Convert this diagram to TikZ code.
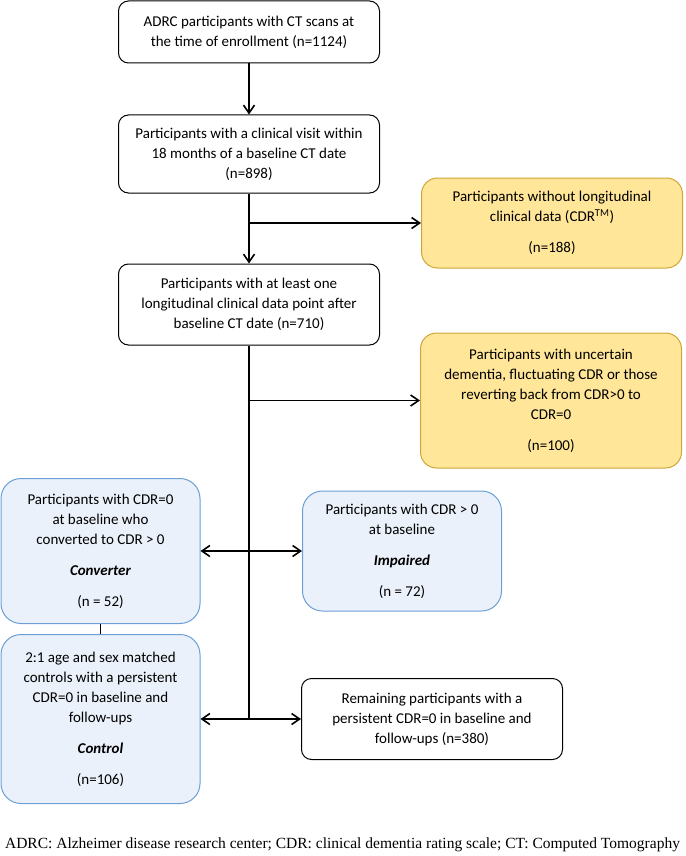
\documentclass[tikz,border=0pt]{standalone}
\usepackage{fontspec}
\setmainfont{Carlito}
\newfontfamily\notefont{Liberation Serif}
\usepackage{tikz}
\usetikzlibrary{arrows.meta}
\definecolor{goldfill}{HTML}{FFE699}
\definecolor{goldline}{HTML}{CFA536}
\definecolor{bluefill}{HTML}{EBF1FA}
\definecolor{blueline}{HTML}{6B9FD6}
\tikzset{
    every node/.style={align=center, inner sep=0pt, font=\fontsize{15}{20}\selectfont,},
    stage/.style={draw,rectangle,rounded corners=10pt, line width=1pt, fill=white, minimum width=261pt,},
    excluded/.style={stage, draw=goldline, fill=goldfill, rounded corners=16pt,},
    cohort/.style={stage, draw=blueline, fill=bluefill, rounded corners=20pt, minimum width=199pt,},
    flow/.style={line width=1.6pt, -{Straight Barb[length=8pt,width=11pt]},},
    both/.style={line width=1.6pt, {Straight Barb[length=8pt,width=11pt]}-{Straight Barb[length=8pt,width=11pt]},},
}

\begin{document}
\begin{tikzpicture}[x=1pt,y=-1pt]
                \useasboundingbox (0,0) rectangle (685,856);

                \node[stage, minimum height=62pt] (enrolled) at (249, 32) {ADRC participants with CT scans at\\the time of enrollment (n=1124)};
                \node[stage, minimum height=78pt] (visit) at (249, 154) {Participants with a clinical visit within\\18 months of a baseline CT date\\(n=898)};
                \node[excluded, minimum height=90pt] (nolong) at (552, 223) {Participants without longitudinal\\clinical data (CDR\textsuperscript{TM})\\[11pt](n=188)};
                \node[stage, minimum height=81pt] (longit) at (249, 304.5) {Participants with at least one\\longitudinal clinical data point after\\baseline CT date (n=710)};
                \node[excluded, minimum height=135pt] (uncertain) at (551, 400.5) {Participants with uncertain\\dementia, fluctuating CDR or those\\reverting back from CDR>0 to\\CDR=0\\[11pt](n=100)};

                \node[cohort, minimum height=145pt] (converter) at (100.5, 551) {Participants with CDR=0\\at baseline who\\converted to CDR > 0\\[11pt]\textbf{\textit{Converter}}\\[11pt](n = 52)};
                \node[cohort, minimum height=120pt] (impaired) at (402, 551) {Participants with CDR > 0\\at baseline\\[11pt]\textbf{\textit{Impaired}}\\[11pt](n = 72)};
                \node[cohort, minimum height=169pt] (control) at (100.5, 719) {2:1 age and sex matched\\controls with a persistent\\CDR=0 in baseline and\\follow-ups\\[11pt]\textbf{\textit{Control}}\\[11pt](n=106)};
                \node[stage, minimum height=81pt] (remaining) at (432, 719) {Remaining participants with a\\persistent CDR=0 in baseline and\\follow-ups (n=380)};

                \node[font=\notefont\fontsize{15.5}{18}\selectfont] (note) at (342.5, 845) {ADRC: Alzheimer disease research center; CDR: clinical dementia rating scale; CT: Computed Tomography};

                \coordinate (split) at (249, 719);

                \draw[flow] (enrolled) to (visit);
                \draw[flow] (visit) to (longit);
                \draw[flow] (visit.south |- nolong.west) to (nolong.west);
                \draw[line width=1.6pt] (longit.south) to (split);
                \draw[flow] (longit.south |- uncertain.west) to (uncertain.west);
                \draw[both] (converter.east) to (impaired.west);
                \draw[both] (control.east) to (remaining.west);
                \draw[line width=1.6pt] (converter.south) to (control.north);
            \end{tikzpicture}
\end{document}
